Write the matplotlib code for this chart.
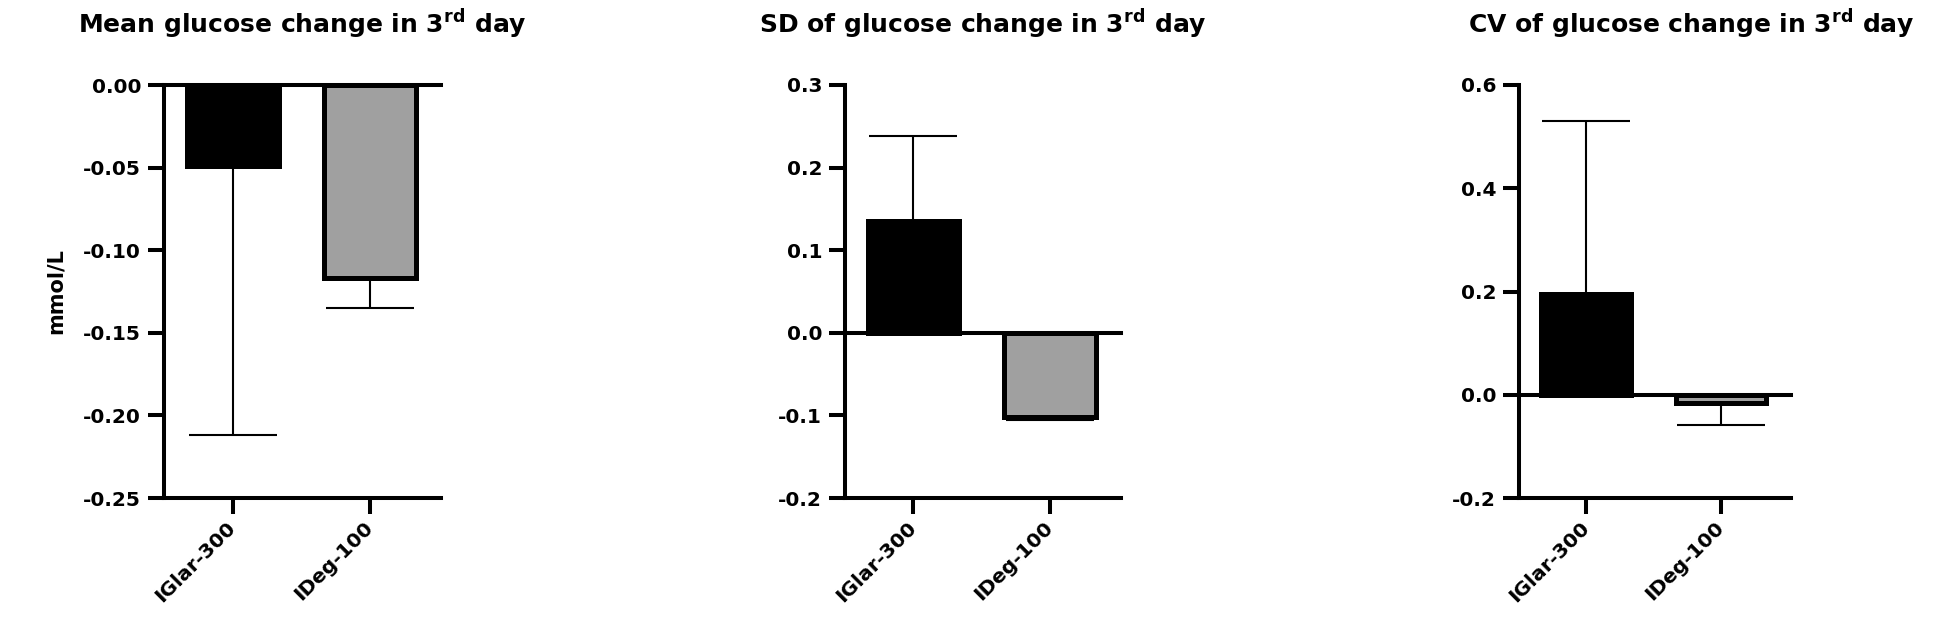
import matplotlib
matplotlib.use("Agg")
import matplotlib.pyplot as plt
import numpy as np

# Data
groups = ["IGlar-300", "IDeg-100"]
titles = [
    r"Mean glucose change in 3$^{\mathbf{rd}}$ day",
    r"SD of glucose change in 3$^{\mathbf{rd}}$ day",
    r"CV of glucose change in 3$^{\mathbf{rd}}$ day",
]
mean_change = [-0.049, -0.117]
mean_err = [0.163, 0.018]
sd_change = [0.135, -0.102]
sd_err = [0.103, 0.003]
cv_change = [0.196, -0.016]
cv_err = [0.335, 0.043]

ylims = [(-0.25, 0.0), (-0.2, 0.3), (-0.2, 0.6)]
yticks = [np.arange(-0.25, 0.001, 0.05), np.arange(-0.2, 0.301, 0.1), np.arange(-0.2, 0.601, 0.2)]
yfmt = ["{:.2f}", "{:.1f}", "{:.1f}"]

bar_colors = ["black", "#a0a0a0"]

plt.rcParams["font.family"] = "DejaVu Sans"
plt.rcParams["font.weight"] = "bold"
plt.rcParams["mathtext.fontset"] = "dejavusans"

fig = plt.figure(figsize=(19.46, 6.31), dpi=100, facecolor="white")

W, H = 1946, 631
# axes boxes in pixels: left, right
boxes = [(164, 441), (845, 1121), (1519, 1791)]
top_px, bottom_px = 85, 498
# title anchor (x px, alignment)
title_pos = [(302, "center"), (983, "center"), (1468, "left")]

datasets = [(mean_change, mean_err), (sd_change, sd_err), (cv_change, cv_err)]
lw = 2.9

for i, (vals, errs) in enumerate(datasets):
    l, r = boxes[i]
    ax = fig.add_axes([l / W, 1 - bottom_px / H, (r - l) / W, (bottom_px - top_px) / H])
    x = np.arange(len(groups))

    # Error bars only away from zero, hidden under the bar on the other side
    lower = [e if v < 0 else 0 for v, e in zip(vals, errs)]
    upper = [e if v >= 0 else 0 for v, e in zip(vals, errs)]
    ax.errorbar(x, vals, yerr=[lower, upper], fmt="none", ecolor="black",
                elinewidth=1.5, capsize=32, capthick=1.5, zorder=2)
    ax.bar(x, vals, width=0.67, color=bar_colors, edgecolor="black",
           linewidth=3.6, zorder=3)

    # Zero line
    ax.axhline(0, color="black", linewidth=lw, zorder=4, clip_on=False)

    ax.spines["top"].set_visible(False)
    ax.spines["right"].set_visible(False)
    ax.spines["left"].set_linewidth(lw)
    ax.spines["bottom"].set_linewidth(lw)

    ax.set_xlim(-0.5, 1.52)
    ax.set_ylim(*ylims[i])
    ax.set_yticks(yticks[i])
    ax.set_yticklabels([yfmt[i].format(t) if abs(t) > 1e-9 else yfmt[i].format(0.0)
                        for t in yticks[i]])
    ax.set_xticks(x)
    ax.set_xticklabels(groups, rotation=45, ha="right", va="center",
                       rotation_mode="anchor")
    ax.tick_params(axis="both", length=11.5, width=lw, labelsize=14.5, pad=5)
    ax.tick_params(axis="x", pad=8)

    if i == 0:
        ax.set_ylabel("mmol/L", fontsize=15, fontweight="bold")
        ax.yaxis.set_label_coords(-0.354, 0.5)

    tx, ha = title_pos[i]
    fig.text(tx / W, 1 - 33 / H, titles[i], fontsize=18,
             fontweight="bold", ha=ha, va="baseline")

plt.savefig("out.png", dpi=100, facecolor="white")
